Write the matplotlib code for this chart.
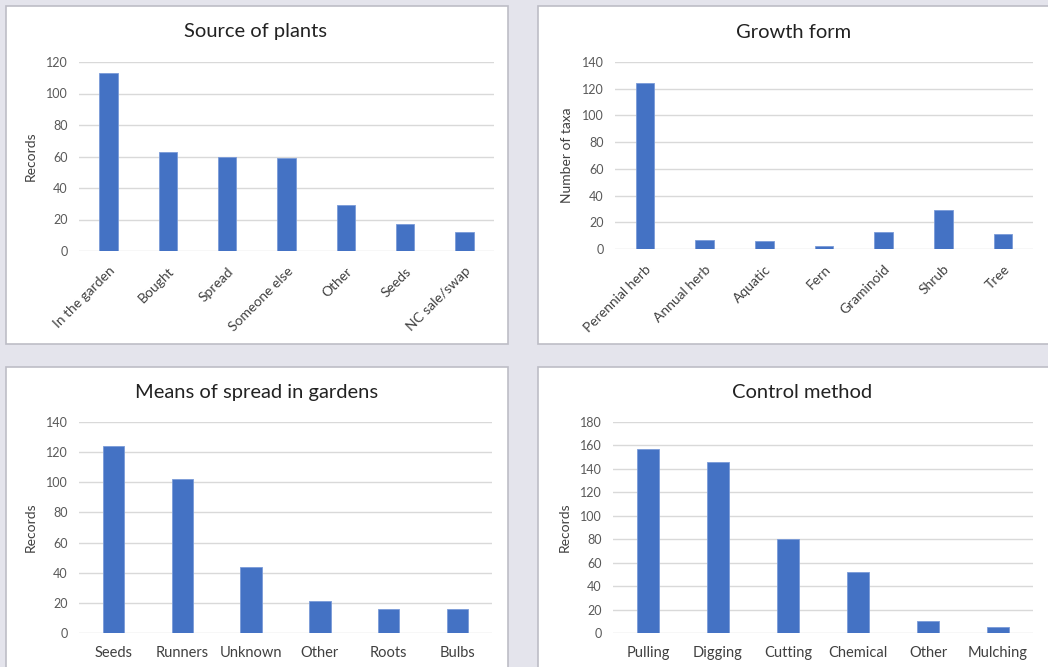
import matplotlib
matplotlib.use('Agg')
import matplotlib.pyplot as plt
from matplotlib.patches import Rectangle

plt.rcParams['font.family'] = ['Lato', 'DejaVu Sans']

source_cats = ['In the garden', 'Bought', 'Spread', 'Someone else', 'Other', 'Seeds', 'NC sale/swap']
source_vals = [113, 63, 60, 59, 29, 17, 12]

growth_cats = ['Perennial herb', 'Annual herb', 'Aquatic', 'Fern', 'Graminoid', 'Shrub', 'Tree']
growth_vals = [124, 7, 6, 2, 13, 29, 11]

spread_cats = ['Seeds', 'Runners', 'Unknown', 'Other', 'Roots', 'Bulbs']
spread_vals = [124, 102, 44, 21, 16, 16]

control_cats = ['Pulling', 'Digging', 'Cutting', 'Chemical', 'Other', 'Mulching']
control_vals = [157, 146, 80, 52, 10, 5]

W, H = 1048, 667
fig = plt.figure(figsize=(W / 100, H / 100), dpi=100)
fig.patch.set_facecolor('#E4E4EC')

bar_col = '#4472C4'
grid_col = '#D9D9D9'
txt_col = '#595959'


def px_rect(x0, y0, x1, y1):
    # pixel box (top-left origin) -> figure fraction
    return [x0 / W, 1 - y1 / H, (x1 - x0) / W, (y1 - y0) / H]


def panel(x0, y0, x1, y1):
    fig.patches.append(Rectangle((x0 / W, 1 - y1 / H), (x1 - x0) / W, (y1 - y0) / H,
                                 transform=fig.transFigure, facecolor='white',
                                 edgecolor='#BDBDC6', linewidth=1.2, zorder=-5))


def chart(box, cats, vals, ymax, step, title, tx, ty, ylabel, rotate):
    ax = fig.add_axes(px_rect(*box))
    ax.set_zorder(2)
    ax.patch.set_alpha(0)
    ax.bar(range(len(cats)), vals, width=0.31, color=bar_col, edgecolor='#7A9BD8',
           linewidth=0.6, zorder=3)
    ax.set_xlim(-0.5, len(cats) - 0.5)
    ax.set_ylim(0, ymax)
    ax.set_yticks(range(0, ymax + 1, step))
    ax.grid(axis='y', color=grid_col, linewidth=1, zorder=0)
    ax.set_axisbelow(True)
    for s in ax.spines.values():
        s.set_visible(False)
    ax.tick_params(length=0, labelsize=9, labelcolor=txt_col)
    ax.tick_params(axis='y', pad=8)
    ax.set_xticks(range(len(cats)))
    if rotate:
        ax.set_xticklabels(cats, rotation=45, ha='right', rotation_mode='anchor',
                           fontsize=10, color='#404040')
        ax.tick_params(axis='x', pad=10)
    else:
        ax.set_xticklabels(cats, fontsize=10.5, color='#404040')
        ax.tick_params(axis='x', pad=9.5)
    ax.set_ylabel(ylabel, fontsize=10, color='#404040')
    ax.yaxis.set_label_coords(-42 / (box[2] - box[0]), 0.5)
    fig.text(tx / W, 1 - ty / H, title, fontsize=14.5, color='#222222', ha='center', va='center',
             zorder=3)
    return ax


panel(6, 6, 508, 344)
panel(538, 6, 1060, 344)
panel(6, 367, 508, 680)
panel(538, 367, 1060, 680)

chart((79, 62, 494, 251), source_cats, source_vals, 120, 20,
      'Source of plants', 256, 32, 'Records', True)
chart((615, 62, 1033, 249), growth_cats, growth_vals, 140, 20,
      'Growth form', 794, 32, 'Number of taxa', True)
chart((79, 422, 492, 633), spread_cats, spread_vals, 140, 20,
      'Means of spread in gardens', 257, 392, 'Records', False)
chart((613, 422, 1033, 633), control_cats, control_vals, 180, 20,
      'Control method', 802, 392, 'Records', False)

fig.savefig('out.png', dpi=100, facecolor=fig.get_facecolor())
